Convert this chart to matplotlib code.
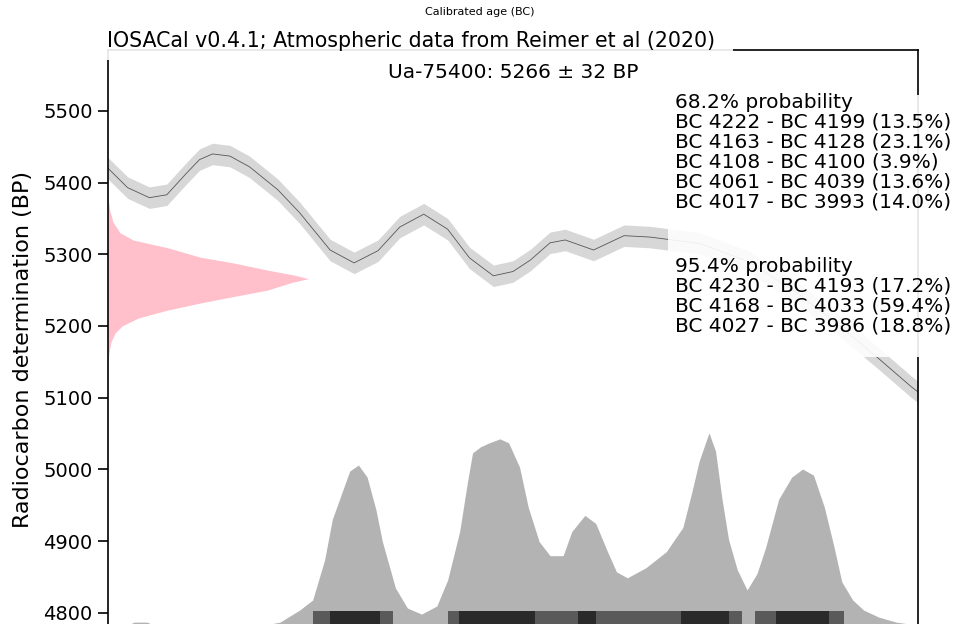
import numpy as np
import matplotlib
matplotlib.use('Agg')
import matplotlib.pyplot as plt
from matplotlib.patches import Rectangle

# Radiocarbon date
date_label = 'Ua-75400: 5266 ± 32 BP'

# Calibration curve (calendar year BC, radiocarbon age BP, 1 sigma)
curve_bc = [4324, 4315, 4305, 4297, 4288, 4282, 4276, 4268, 4259, 4246, 4236,
            4222, 4211, 4200, 4190, 4179, 4168, 4158, 4147, 4138, 4130, 4121,
            4114, 4101, 4087, 4075, 4052, 4030, 4007, 3988, 3971, 3955, 3952]
curve_bp = [5420, 5393, 5379, 5383, 5413, 5432, 5440, 5437, 5422, 5390, 5358,
            5306, 5288, 5305, 5338, 5356, 5335, 5295, 5270, 5276, 5292, 5316,
            5320, 5306, 5326, 5324, 5315, 5290, 5245, 5200, 5157, 5115, 5108]
curve_err = 15

# Radiocarbon determination shape on the y axis (BP, relative width)
date_bp = [5378, 5360, 5345, 5330, 5320, 5309, 5296, 5288, 5278, 5271, 5266,
           5261, 5250, 5241, 5232, 5222, 5211, 5200, 5190, 5178, 5163, 5150]
date_rel = [0.0, 0.01, 0.025, 0.06, 0.125, 0.30, 0.46, 0.625, 0.795, 0.93,
            1.0, 0.92, 0.795, 0.625, 0.46, 0.295, 0.15, 0.07, 0.035, 0.015,
            0.005, 0.0]

# Calibrated probability (calendar year BC, relative density)
cal_bc = [4324, 4318, 4312, 4306, 4300, 4290, 4270, 4255, 4245, 4236, 4230,
          4224.5, 4221, 4216, 4213, 4209, 4205, 4201, 4198, 4192, 4186.5,
          4180, 4173, 4168, 4162.5, 4159, 4156.6, 4153, 4149, 4144, 4140,
          4135, 4131, 4126, 4121, 4115, 4111, 4105, 4100, 4095, 4090.5,
          4085.5, 4077, 4067.6, 4060, 4056, 4052.5, 4048, 4045, 4042, 4039,
          4035, 4030.5, 4026, 4022, 4016, 4010, 4005, 4000, 3995, 3990.5,
          3987, 3982, 3977, 3970, 3962, 3952]
cal_rel = [0.02, 0.03, 0.06, 0.06, 0.03, 0.01, 0.01, 0.04, 0.06, 0.12, 0.17,
           0.37, 0.57, 0.72, 0.81, 0.84, 0.78, 0.62, 0.46, 0.23, 0.13,
           0.10, 0.14, 0.27, 0.51, 0.75, 0.90, 0.93, 0.95, 0.97, 0.95,
           0.83, 0.63, 0.46, 0.39, 0.39, 0.51, 0.59, 0.55, 0.42, 0.31,
           0.28, 0.33, 0.41, 0.53, 0.70, 0.86, 1.0, 0.91, 0.67, 0.47,
           0.32, 0.22, 0.30, 0.43, 0.67, 0.78, 0.82, 0.79, 0.63, 0.43,
           0.26, 0.17, 0.12, 0.085, 0.06, 0.045]

# Highest density ranges (BC start, BC end)
hpd_68 = [(4222, 4199), (4163, 4128), (4108, 4100), (4061, 4039), (4017, 3993)]
hpd_68_pct = [13.5, 23.1, 3.9, 13.6, 14.0]
hpd_95 = [(4230, 4193), (4168, 4033), (4027, 3986)]
hpd_95_pct = [17.2, 59.4, 18.8]

W, H = 961, 624
fig = plt.figure(figsize=(W / 100, H / 100), dpi=100)
ax = fig.add_axes([108 / W, (H - 650) / H, 810 / W, 600 / H])
ax.set_xlim(4324, 3952)
ax.set_ylim(4748, 5585)

# calibration curve
cb = np.array(curve_bc)
cv = np.array(curve_bp)
ax.fill_between(cb, cv - curve_err, cv + curve_err, color='lightgray',
                alpha=0.9, lw=0, zorder=2)
ax.plot(cb, cv, color='black', lw=0.6, alpha=0.6, zorder=3)

# radiocarbon date on the y axis
width = 92
ax.fill_betweenx(date_bp, 4324, 4324 - width * np.array(date_rel),
                 color='pink', lw=0, zorder=2)

# calibrated distribution
base = 4770
ax.fill_between(cal_bc, base, base + 281 * np.array(cal_rel),
                color='#b3b3b3', lw=0, zorder=1)

for a, b in hpd_95:
    ax.fill_between([a, b], 4700, 4802, color='#5a5a5a', lw=0, zorder=4)
for a, b in hpd_68:
    ax.fill_between([a, b], 4700, 4802, color='#2a2a2a', lw=0, zorder=5)

ax.set_yticks([4800, 4900, 5000, 5100, 5200, 5300, 5400, 5500])
ax.tick_params(axis='y', labelsize=14, length=7, width=1.2, pad=4)
ax.set_xticks([])
ax.set_ylabel('Radiocarbon determination (BP)', fontsize=16, labelpad=7)
for s in ax.spines.values():
    s.set_linewidth(1.2)

ax.text(0.5, 1 - (73 - 50) / 600, date_label, transform=ax.transAxes,
        ha='center', va='center', fontsize=14.5)

# probability box
ax.add_patch(Rectangle((668 / W, (H - 357) / H), 320 / W, 262 / H,
                       transform=fig.transFigure, facecolor='white',
                       alpha=0.9, lw=0, zorder=8, clip_on=False))
txt68 = '68.2% probability\n' + '\n'.join(
    f'BC {a} - BC {b} ({p:.1f}%)' for (a, b), p in zip(hpd_68, hpd_68_pct))
txt95 = '95.4% probability\n' + '\n'.join(
    f'BC {a} - BC {b} ({p:.1f}%)' for (a, b), p in zip(hpd_95, hpd_95_pct))
fig.text(675 / W, 1 - 93 / H, txt68, ha='left', va='top', fontsize=14.5,
         linespacing=1.06, zorder=9)
fig.text(675 / W, 1 - 257 / H, txt95, ha='left', va='top', fontsize=14.5,
         linespacing=1.06, zorder=9)

# title box
fig.patches.append(Rectangle((100 / W, 1 - 60 / H), 633 / W, 40 / H,
                             transform=fig.transFigure, facecolor='white',
                             alpha=0.9, lw=0, zorder=5))
fig.text(107 / W, 1 - 41 / H,
         'IOSACal v0.4.1; Atmospheric data from Reimer et al (2020)',
         ha='left', va='center', fontsize=14.8, zorder=6)
fig.text(480 / W, 1 - 12 / H, 'Calibrated age (BC)', ha='center',
         va='center', fontsize=8)

fig.savefig('out.png', dpi=100)
